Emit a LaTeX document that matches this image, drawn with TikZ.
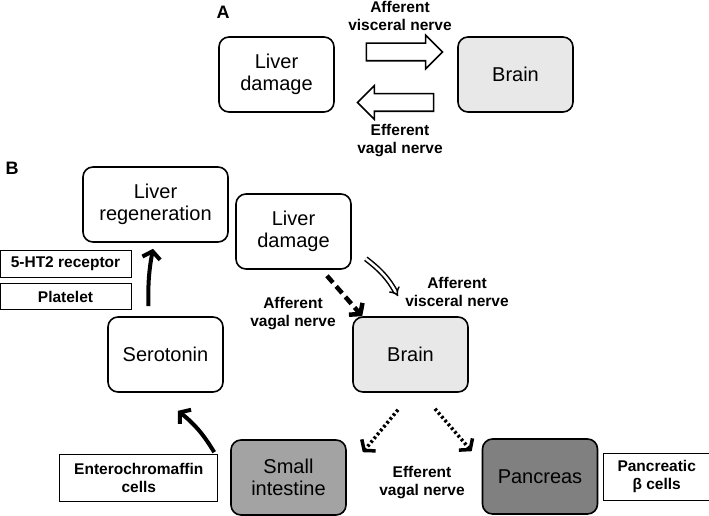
\documentclass[tikz,border=0pt]{standalone}
\usepackage{fontspec}
\setmainfont{Liberation Sans}
\usepackage{tikz}
\usetikzlibrary{shapes.arrows,arrows.meta,positioning,calc}

\begin{document}
\begin{tikzpicture}[x=1pt,y=-1pt,
                organ/.style={draw,line width=1.6pt,rounded corners=10pt,minimum width=115pt,minimum height=75pt,
                    align=center,inner sep=0pt,font=\fontsize{20}{22}\selectfont},
                tag/.style={draw,line width=0.8pt,align=center,inner sep=0pt,font=\fontsize{15.5}{18}\selectfont\bfseries},
                lbl/.style={align=center,inner sep=0pt,font=\fontsize{15.5}{18}\selectfont\bfseries},
                panel/.style={inner sep=0pt,font=\fontsize{18}{18}\selectfont\bfseries},
                blockarrow/.style={single arrow,draw,line width=1.6pt,minimum height=76pt,single arrow head extend=8pt,
                    inner xsep=0pt,inner ysep=8pt,text height=0pt,text depth=0pt},
                barb/.style={-{Straight Barb[length=7pt,width=18pt]}},
                heavy/.style={barb,line width=4pt},
                dashedheavy/.style={barb,line width=4.5pt,dash pattern=on 9pt off 5pt},
                dottedheavy/.style={barb,line width=3.5pt,dash pattern=on 2.5pt off 2.5pt}]
                \useasboundingbox (0,0) rectangle (709,516);
                \node[panel] (A) at (223,12) {A};
                \node[organ] (liverA) at (276.5,74.5) {Liver\\damage};
                \node[organ,fill=black!9] (brainA) at (515.5,74.5) {Brain};
                \node[blockarrow] (aff) at (400,52) {};
                \node[blockarrow,shape border rotate=180] (eff) at (400,102.5) {};
                \node[lbl] (affA) at (400,16) {Afferent\\visceral nerve};
                \node[lbl] (effA) at (400,141) {Efferent\\vagal nerve};
                \node[panel] (B) at (12,168) {B};
                \node[organ,minimum width=145pt] (regen) at (155.5,204.5) {Liver\\regeneration};
                \node[organ] (liverB) at (293.5,231.5) {Liver\\damage};
                \node[organ] (sero) at (165.5,354.5) {Serotonin};
                \node[organ,fill=black!9] (brainB) at (410.5,354.5) {Brain};
                \node[organ,fill=black!36] (smint) at (288.5,477.5) {Small\\intestine};
                \node[organ,fill=black!50] (panc) at (540,476.5) {Pancreas};
                \node[tag,minimum width=131pt,minimum height=27pt] (recep) at (65.5,263.5) {5-HT2 receptor};
                \node[tag,minimum width=131pt,minimum height=26pt,below=6pt of recep] (plat) {Platelet};
                \node[tag,minimum width=158pt,minimum height=47pt,left=12pt of smint.west|-smint] (entero) {Enterochromaffin\\cells};
                \node[tag,minimum width=106pt,minimum height=47pt,right=5pt of panc.east|-panc] (beta) {Pancreatic\\β cells};
                \node[lbl] (affvag) at (293,314) {Afferent\\vagal nerve};
                \node[lbl] (affvis) at (457,292) {Afferent\\visceral nerve};
                \node[lbl] (effvag) at (422,483) {Efferent\\vagal nerve};
                \draw[heavy] ($(sero.north)+(-17,-10)$) to[bend left=6] ($(regen.south)+(-2.5,6)$);
                \draw[heavy] ($(smint.north west)+(-16,13)$) to[bend right=10] ($(sero.south)+(12.5,18)$);
                \draw[dashedheavy] ($(liverB.south)+(33.5,6)$) -- ($(brainB.north west)+(10,0)$);
                \draw[line width=1.5pt,double=white,double distance=2.5pt,-{Implies[scale=1.8]}] ($(liverB.south east)+(14,-11)$) to[bend left=12] ($(brainB.north)+(-12.5,-20)$);
                \draw[dottedheavy] ($(brainB.south)+(-12.5,17)$) -- ($(smint.north east)+(16,13)$);
                \draw[dottedheavy] ($(brainB.south)+(24.5,16)$) -- ($(panc.north west)+(-10,13)$);
            \end{tikzpicture}
\end{document}
